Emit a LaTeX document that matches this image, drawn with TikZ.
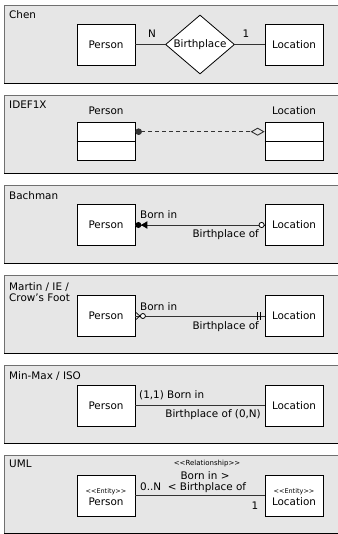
\documentclass[tikz,border=0pt]{standalone}
\usepackage{fontspec}
\setmainfont{DejaVu Sans}
\usetikzlibrary{shapes.geometric,arrows.meta,calc}
\definecolor{panelgray}{HTML}{E6E6E6}
\definecolor{paneltop}{HTML}{707070}
\definecolor{linegray}{HTML}{333333}
\begin{document}
\begin{tikzpicture}[x=1pt,y=-1pt,
  font=\fontsize{10.4}{12.5}\selectfont,
  entity/.style={draw=black, fill=white, line width=0.8pt, minimum width=58pt, minimum height=41pt, inner sep=0pt, align=center},
  tablebox/.style={draw=black, fill=white, line width=0.8pt, minimum width=58pt, minimum height=38pt, inner sep=0pt},
  title/.style={anchor=west, inner sep=0pt, align=left},
  lbl/.style={inner sep=0pt},
  conn/.style={draw=linegray, line width=0.9pt},
  small/.style={font=\fontsize{6.5}{7}\selectfont, inner sep=0pt}]
\useasboundingbox (0,0) rectangle (337,534);
% panels
\foreach \t in {5,95,185,275,365,455}{
  \fill[panelgray] (4,\t) rectangle (345,\t+78);
  \draw[paneltop, line width=0.9pt] (4,\t+78) -- (4,\t) -- (345,\t);
  \draw[black, line width=0.9pt] (4,\t+78) -- (345,\t+78);
}
% ---------------- Chen
\node[title] (t1) at (9,15) {Chen};
\node[entity] (p1) at (106,44.5) {Person};
\node[entity] (l1) at (294,44.5) {Location};
\node[draw=black, fill=white, line width=0.8pt, diamond, aspect=1.17, minimum width=69pt, minimum height=59pt, inner sep=0pt] (d1) at (200,44.5) {Birthplace};
\draw[conn] (p1.east) -- (d1.west);
\draw[conn] (d1.east) -- (l1.west);
\node[lbl] (n1) at (152,34) {N};
\node[lbl] (o1) at (246,34) {1};
% ---------------- IDEF1X
\node[title] (t2) at (9,105) {IDEF1X};
\node[lbl] (pl2) at (106,111) {Person};
\node[lbl] (ll2) at (294,111) {Location};
\node[tablebox, anchor=north] (p2) at (106,122) {};
\node[tablebox, anchor=north] (l2) at (294,122) {};
\draw[black, line width=0.8pt] (p2.west) -- (p2.east);
\draw[black, line width=0.8pt] (l2.west) -- (l2.east);
\coordinate (p2c) at ($(p2.north east)!0.25!(p2.south east)$);
\coordinate (l2c) at ($(l2.north west)!0.25!(l2.south west)$);
\draw[conn, dash pattern=on 4pt off 3pt, {Circle[length=6.5pt]}-{Diamond[open,length=14pt,width=8pt,line width=0.9pt]}] (p2c) -- (l2c);
% ---------------- Bachman
\node[title] (t3) at (9,196) {Bachman};
\node[entity] (p3) at (106,225) {Person};
\node[entity] (l3) at (294,225) {Location};
\draw[conn] (p3.east) -- (l3.west);
\fill[black] ($(p3.east)+(3,0)$) circle (3);
\fill[black] ($(p3.east)+(5.5,0)$) -- ($(p3.east)+(12,-3.8)$) -- ($(p3.east)+(12,3.8)$) -- cycle;
\filldraw[draw=black, fill=white, line width=0.8pt] ($(l3.west)+(-3,0)$) circle (2.6);
\node[lbl, anchor=west] (b3) at (140,215) {Born in};
\node[lbl, anchor=east] (bp3) at (259,235) {Birthplace of};
% ---------------- Martin
\node[title] (t4) at (9,292.5) {Martin / IE /\\[-1.5pt]Crow{\char39}s Foot};
\node[entity] (p4) at (106,316) {Person};
\node[entity] (l4) at (294,316) {Location};
\draw[conn] (p4.east) -- (l4.west);
\draw[black, line width=0.7pt] ($(p4.east)+(0,-4)$) -- ($(p4.east)+(4.5,0)$) -- ($(p4.east)+(0,4)$);
\filldraw[draw=black, fill=white, line width=0.8pt] ($(p4.east)+(7.5,0)$) circle (2.5);
\draw[black, line width=0.8pt] ($(l4.west)+(-7,-4)$) -- ($(l4.west)+(-7,4)$);
\draw[black, line width=0.8pt] ($(l4.west)+(-4.5,-4)$) -- ($(l4.west)+(-4.5,4)$);
\node[lbl, anchor=west] (b4) at (140,307) {Born in};
\node[lbl, anchor=east] (bp4) at (259,327) {Birthplace of};
% ---------------- Min-Max
\node[title] (t5) at (9,376) {Min-Max / ISO};
\node[entity] (p5) at (106,405.5) {Person};
\node[entity] (l5) at (294,405.5) {Location};
\draw[conn] (p5.east) -- (l5.west);
\node[lbl, anchor=west] (b5) at (139,395) {(1,1) Born in};
\node[lbl, anchor=east] (bp5) at (261,415) {Birthplace of (0,N)};
% ---------------- UML
\node[title] (t6) at (9,464) {UML};
\node[entity] (p6) at (106,495.5) {};
\node[small] (pe6) at (106,492) {<{}<Entity>{}>};
\node[lbl] (pn6) at (106,501.5) {Person};
\node[entity] (l6) at (294,495.5) {};
\node[small] (le6) at (294,492) {<{}<Entity>{}>};
\node[lbl] (ln6) at (294,501.5) {Location};
\draw[conn] (p6.east) -- (l6.west);
\node[small, font=\fontsize{7}{8}\selectfont] (r6) at (207,464) {<{}<Relationship>{}>};
\node[lbl] (bi6) at (205,475.5) {Born in >};
\node[lbl] (bo6) at (207,488) {< Birthplace of};
\node[lbl, anchor=west] (m6) at (140,486.5) {0..N};
\node[lbl] (one6) at (255,506) {1};
\end{tikzpicture}
\end{document}
